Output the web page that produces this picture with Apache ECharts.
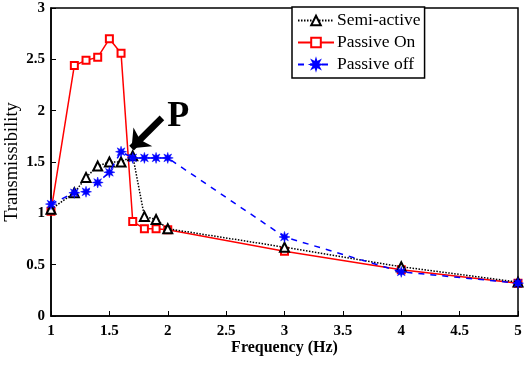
<!DOCTYPE html>
<html>
<head>
<meta charset="utf-8">
<script src="https://cdn.jsdelivr.net/npm/echarts@6/dist/echarts.min.js"></script>
<style>html,body{margin:0;padding:0;background:#fff;}#c{width:526px;height:367px;}</style>
</head>
<body>
<div id="c"></div>
<script>
var freq = [1, 1.2, 1.3, 1.4, 1.5, 1.6, 1.7, 1.8, 1.9, 2, 3, 4, 5];
var semiActive = [1.04, 1.20, 1.35, 1.46, 1.50, 1.50, 1.56, 0.97, 0.94, 0.85, 0.67, 0.48, 0.33];
var passiveOn = [1.02, 2.44, 2.49, 2.52, 2.70, 2.56, 0.92, 0.85, 0.85, 0.84, 0.63, 0.45, 0.32];
var passiveOff = [1.09, 1.20, 1.21, 1.30, 1.40, 1.60, 1.54, 1.54, 1.54, 1.54, 0.77, 0.43, 0.32];
var seriesNames = ['Semi-active', 'Passive On', 'Passive off'];
var arrowTail = [1.95, 1.93];
var arrowTip = [1.69, 1.635];
var labelP = [2.09, 1.94];

function pairs(v) { return freq.map(function (f, i) { return [f, v[i]]; }); }
var serif = 'Liberation Serif';
// filled asterisk-like star symbol
var starPath = (function () {
  var pts = [], n = 8;
  for (var i = 0; i < n * 2; i++) {
    var r = (i % 2 === 0) ? 10 : 4.5;
    var a = Math.PI * i / n - Math.PI / 2;
    pts.push((r * Math.cos(a)).toFixed(2) + ',' + (r * Math.sin(a)).toFixed(2));
  }
  return 'path://M' + pts.join('L') + 'Z';
})();

var chart = echarts.init(document.getElementById('c'), null, {renderer: 'canvas'});
chart.setOption({
  animation: false,
  backgroundColor: '#fff',
  grid: {left: 51, right: 8, top: 8, bottom: 51, show: true, borderColor: '#000', borderWidth: 1.5,
         containLabel: false, outerBoundsMode: 'none'},
  legend: {
    orient: 'vertical', left: 292, top: 7,
    data: seriesNames,
    backgroundColor: '#fff', borderColor: '#000', borderWidth: 1.5,
    padding: [3, 4, 3, 5], itemGap: 1, itemWidth: 36, itemHeight: 12,
    textStyle: {fontFamily: serif, fontSize: 17.5, color: '#000', lineHeight: 21, padding: [0, 0, 0, -2]}
  },
  xAxis: {
    type: 'value', min: 1, max: 5, interval: 0.5,
    name: 'Frequency (Hz)', nameLocation: 'middle', nameGap: 24, nameMoveOverlap: false,
    nameTextStyle: {fontFamily: serif, fontSize: 16, fontWeight: 'bold', color: '#000'},
    axisLine: {lineStyle: {color: '#000', width: 1.5}},
    axisTick: {inside: true, length: 5, lineStyle: {color: '#000'}},
    axisLabel: {fontFamily: serif, fontSize: 15, fontWeight: 'bold', color: '#000', margin: 8},
    splitLine: {show: false}
  },
  yAxis: {
    type: 'value', min: 0, max: 3, interval: 0.5,
    name: 'Transmissibility', nameLocation: 'middle', nameGap: 29, nameMoveOverlap: false,
    nameTextStyle: {fontFamily: serif, fontSize: 18.5, color: '#000'},
    axisLine: {show: true, lineStyle: {color: '#000', width: 1.5}},
    axisTick: {show: true, inside: true, length: 5, lineStyle: {color: '#000'}},
    axisLabel: {fontFamily: serif, fontSize: 15, fontWeight: 'bold', color: '#000', margin: 6},
    splitLine: {show: false}
  },
  series: [
    {
      name: seriesNames[0], type: 'line', data: pairs(semiActive), z: 3,
      symbol: 'emptyTriangle', symbolSize: 9,
      itemStyle: {color: '#000', borderColor: '#000', borderWidth: 1.3},
      lineStyle: {color: '#000', width: 1.5, type: [1.5, 1.5]}
    },
    {
      name: seriesNames[1], type: 'line', data: pairs(passiveOn), z: 2,
      symbol: 'emptyRect', symbolSize: 7,
      itemStyle: {color: '#f00', borderColor: '#f00', borderWidth: 1.3},
      lineStyle: {color: '#f00', width: 1.5}
    },
    {
      name: seriesNames[2], type: 'line', data: pairs(passiveOff), z: 4,
      symbol: starPath, symbolSize: 11,
      itemStyle: {color: '#00f', borderColor: '#00f', borderWidth: 0.5},
      lineStyle: {color: '#00f', width: 1.5, type: [6, 6]},
      markLine: {
        silent: true, animation: false,
        symbol: ['none', 'arrow'], symbolSize: [20, 16],
        label: {show: false},
        lineStyle: {color: '#000', width: 6.5, type: 'solid'},
        data: [[{coord: arrowTail}, {coord: arrowTip}]]
      },
      markPoint: {
        silent: true, symbol: 'circle', symbolSize: 0,
        label: {show: true, formatter: 'P', fontFamily: serif, fontSize: 36, fontWeight: 'bold', color: '#000'},
        data: [{coord: labelP}]
      }
    }
  ]
});
</script>
</body>
</html>
